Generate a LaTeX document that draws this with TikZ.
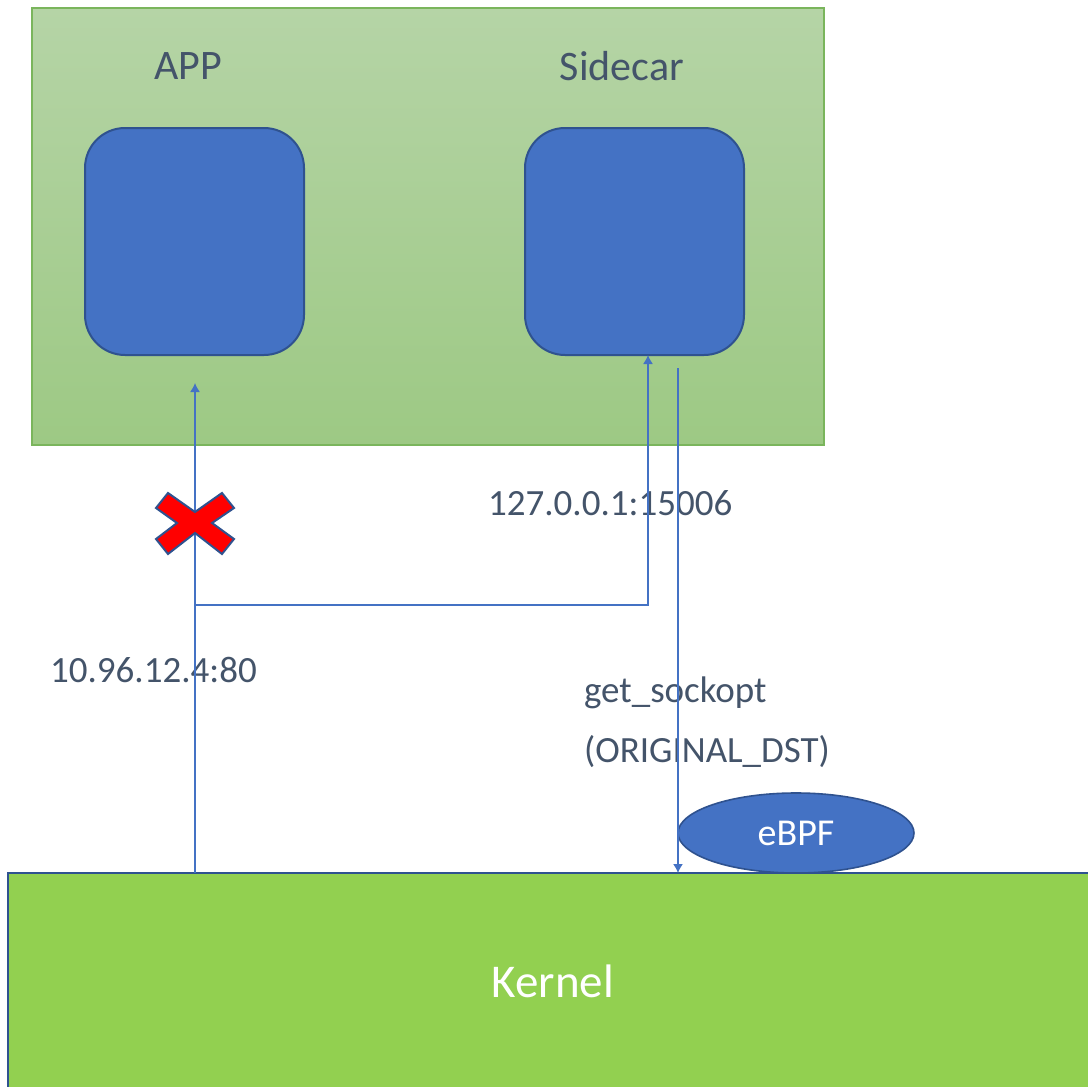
\documentclass[tikz,border=0pt]{standalone}
\usepackage{fontspec}
\setmainfont{Carlito}
\usetikzlibrary{arrows.meta,shapes.geometric}

\definecolor{podtop}{HTML}{B5D4A6}
\definecolor{podbot}{HTML}{9DC984}
\definecolor{podline}{HTML}{7AB55C}
\definecolor{boxfill}{HTML}{4472C4}
\definecolor{boxline}{HTML}{2F528F}
\definecolor{kernfill}{HTML}{92D050}
\definecolor{labeltext}{HTML}{44546A}

\tikzset{
  container/.style={draw=boxline, line width=1pt, fill=boxfill, rounded corners=20pt},
  flow/.style={draw=boxfill, line width=0.7pt, -{Latex[length=4.5pt,width=5pt]}},
  addr/.style={text=labeltext, anchor=west, font=\fontsize{18.5}{20}\selectfont}
}

\begin{document}
\begin{tikzpicture}[x=0.5pt,y=-0.5pt]
\useasboundingbox (0,0) rectangle (1088,1087);
\fill[white] (0,0) rectangle (1088,1087);
% pod
\shade[top color=podtop, bottom color=podbot] (32,8) rectangle (824,445);
\draw[podline, line width=0.6pt] (32,8) rectangle (824,445);
\node[text=labeltext, font=\fontsize{21}{24}\selectfont] (applbl) at (188,66) {APP};
\node[text=labeltext, font=\fontsize{21}{24}\selectfont] (sidelbl) at (622,66) {Sidecar};
\node[container, minimum width=109.5pt, minimum height=113.5pt] (app) at (194.5,241.5) {};
\node[container, minimum width=109.5pt, minimum height=113.5pt] (sidecar) at (634.5,241.5) {};
% kernel
\fill[kernfill] (8,873) rectangle (1100,1100);
\draw[boxline, line width=1pt] (8,1100) -- (8,873) -- (1100,873);
\node[text=white, font=\fontsize{23.5}{26}\selectfont] (kernel) at (553,981) {Kernel};
\node[ellipse, draw=boxline, line width=0.8pt, fill=boxfill, text=white,
  minimum width=118pt, minimum height=40pt, font=\fontsize{19}{22}\selectfont] (ebpf) at (796,833) {eBPF};
% addresses
\node[addr] (vip) at (43,670) {10.96.12.4:80};
\node[addr] (local) at (481,503) {127.0.0.1:15006};
\node[addr] (sockopt) at (577,693) {get\_sockopt};
\node[addr] (origdst) at (577,752) {(ORIGINAL\_DST)};
% connectors
\coordinate (appin) at (195,383);
\coordinate (turn) at (195,605);
\coordinate (sidein) at (648,355);
\coordinate (sideout) at (678,368);
\coordinate (kerntop) at (678,873);
\draw[flow] (appin |- kerntop) -- (appin);
\draw[flow] (turn) -- (turn -| sidein) -- (sidein);
\draw[flow] (sideout) -- (kerntop);
% blocked
\filldraw[fill=red, draw=boxline, line width=1pt]
  (168,493) -- (195,512) -- (222,493) -- (234,508) -- (212,523) -- (234,539)
  -- (222,554) -- (195,533) -- (168,554) -- (156,539) -- (177,523) -- (156,508) -- cycle;
\end{tikzpicture}
\end{document}
